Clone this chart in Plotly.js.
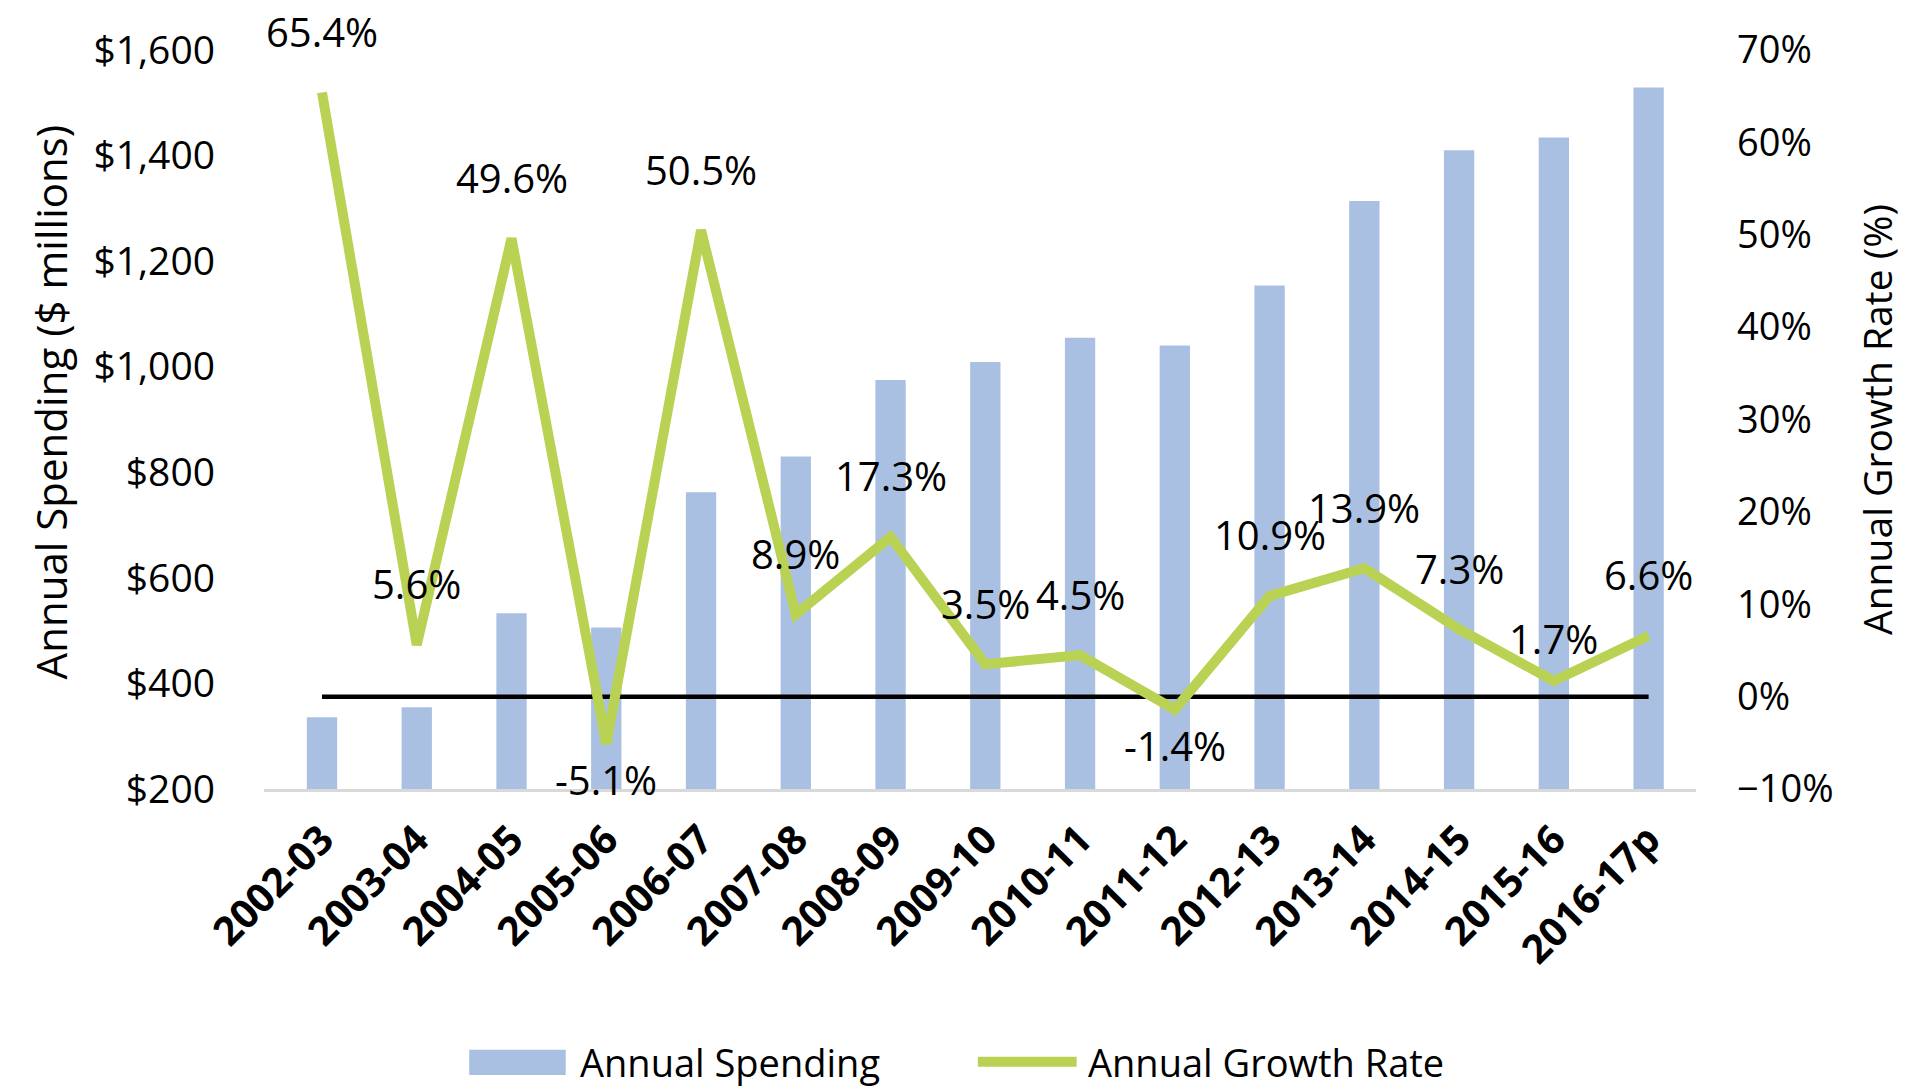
<!DOCTYPE html>
<html>
<head>
<meta charset="utf-8">
<script src="https://cdn.plot.ly/plotly-3.0.1.min.js"></script>
<style>
  html, body { margin: 0; padding: 0; background: #fff; }
  #chart { width: 1932px; height: 1092px; }
</style>
</head>
<body>
<div id="chart"></div>
<script>
// fiscal years and series
var years = ["2002-03", "2003-04", "2004-05", "2005-06", "2006-07", "2007-08", "2008-09", "2009-10",
  "2010-11", "2011-12", "2012-13", "2013-14", "2014-15", "2015-16", "2016-17p"];
var spending = [336, 355, 533, 506, 762, 830, 975, 1009, 1055, 1040, 1154, 1314, 1410, 1434, 1529];
var growth = [65.4, 5.6, 49.6, -5.1, 50.5, 8.9, 17.3, 3.5, 4.5, -1.4, 10.9, 13.9, 7.3, 1.7, 6.6];
var zeroRef = [0, 0, 0, 0, 0, 0, 0, 0, 0, 0, 0, 0, 0, 0, 0];
var legendNames = ["Annual Spending", "Annual Growth Rate"];

var FONT = "Open Sans, Noto Sans, sans-serif";
var barColor = "#aac0e2";
var lineColor = "#bad254";

var traces = [
  {
    type: "bar",
    name: legendNames[0],
    x: years,
    y: spending,
    marker: { color: barColor },
    hoverinfo: "x+y"
  },
  {
    type: "scatter",
    mode: "lines",
    name: "zero",
    x: years,
    y: zeroRef,
    yaxis: "y2",
    line: { color: "#000", width: 4.5 },
    hoverinfo: "skip"
  },
  {
    type: "scatter",
    mode: "lines",
    name: legendNames[1],
    x: years,
    y: growth,
    yaxis: "y2",
    line: { color: lineColor, width: 10 },
    cliponaxis: false
  }
];

// data labels: above the point, below for negatives (1.7% sits a bit lower)
var annotations = growth.map(function(v, i) {
  var shift = v < 0 ? -36 : 61;
  if (i === 13) shift = 42;
  return {
    x: years[i], y: v, xref: "x", yref: "y2",
    text: v.toFixed(1) + "%",
    showarrow: false,
    yshift: shift,
    font: { family: FONT, size: 40, color: "#000" }
  };
});

// left title sits a little above the middle of the plot in the original
annotations.push({
  xref: "paper", yref: "paper", x: -0.149, y: 0.524, xanchor: "center", yanchor: "middle",
  text: "Annual Spending ($ millions)", textangle: -90, showarrow: false,
  font: { family: FONT, size: 42, color: "#000" }
});

// legend drawn by hand so the swatches can be as wide as the original ones
annotations.push(
  { xref: "paper", yref: "paper", x: 0.219, y: -0.369, xanchor: "left", yanchor: "middle",
    text: legendNames[0], showarrow: false, font: { family: FONT, size: 38, color: "#000" } },
  { xref: "paper", yref: "paper", x: 0.5737, y: -0.369, xanchor: "left", yanchor: "middle",
    text: legendNames[1], showarrow: false, font: { family: FONT, size: 38, color: "#000" } }
);
var shapes = [
  { type: "rect", xref: "paper", yref: "paper", x0: 0.1433, x1: 0.2107, y0: -0.387, y1: -0.353,
    fillcolor: barColor, line: { width: 0 } },
  { type: "line", xref: "paper", yref: "paper", x0: 0.4985, x1: 0.5675, y0: -0.369, y1: -0.369,
    line: { color: lineColor, width: 10 } }
];

var layout = {
  width: 1932,
  height: 1092,
  paper_bgcolor: "#fff",
  plot_bgcolor: "#fff",
  margin: { t: 50, b: 303, l: 264, r: 236 },
  font: { family: FONT, size: 38, color: "#000" },
  bargap: 0.68,
  showlegend: false,
  xaxis: {
    type: "category",
    tickangle: -45,
    tickfont: { family: FONT, size: 40, color: "#000", weight: "bold" },
    showgrid: false,
    showline: true,
    linecolor: "#d9d9d9",
    linewidth: 3,
    ticks: "",
    ticklabelstandoff: 8,
    zeroline: false
  },
  yaxis: {
    range: [200, 1600],
    dtick: 200,
    tickprefix: "$",
    tickformat: ",d",
    tickfont: { family: FONT, size: 39, color: "#000" },
    showgrid: false,
    zeroline: false,
    showline: false,
    ticks: "",
    ticklabelstandoff: 48
  },
  yaxis2: {
    overlaying: "y",
    side: "right",
    range: [-10, 70],
    dtick: 10,
    ticksuffix: "%",
    tickfont: { family: FONT, size: 38, color: "#000" },
    showgrid: false,
    zeroline: false,
    showline: false,
    ticks: "",
    ticklabelstandoff: 40,
    title: { text: "Annual Growth Rate (%)", font: { family: FONT, size: 39, color: "#000" }, standoff: 32 }
  },
  annotations: annotations,
  shapes: shapes
};

Plotly.newPlot("chart", traces, layout, { displayModeBar: false, responsive: false });
</script>
</body>
</html>
